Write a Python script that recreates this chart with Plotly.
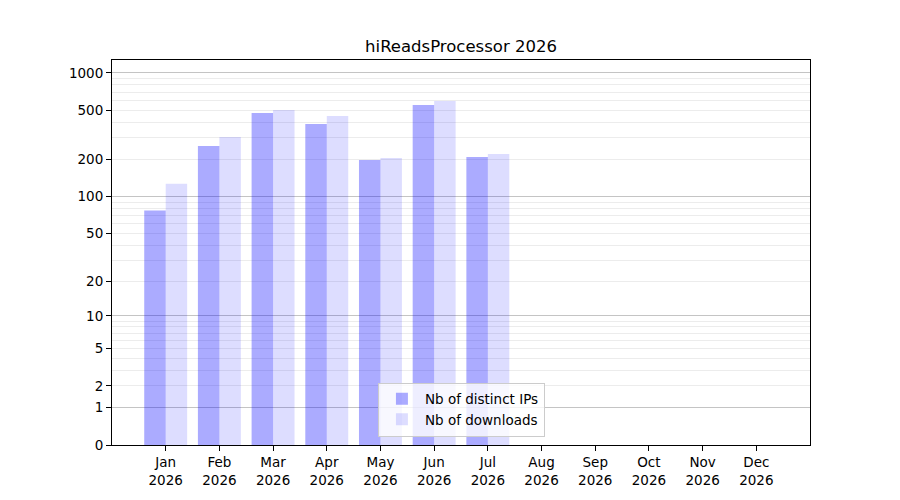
import numpy as np
import plotly.graph_objects as go

months = ["Jan", "Feb", "Mar", "Apr", "May", "Jun", "Jul", "Aug", "Sep", "Oct", "Nov", "Dec"]
year = "2026"
distinct_ips = [77, 257, 475, 387, 198, 551, 209]
downloads = [127, 304, 503, 449, 205, 594, 221]
tick_labels = [0, 1, 2, 5, 10, 20, 50, 100, 200, 500, 1000]
major_grid = [1, 10, 100, 1000]
minor_grid = [2, 3, 4, 5, 6, 7, 8, 9, 20, 30, 40, 50, 60, 70, 80, 90,
              200, 300, 400, 500, 600, 700, 800, 900]
title = "hiReadsProcessor 2026"


def tr(v):
    return np.log10(np.asarray(v, dtype=float) + 1)


x = np.arange(len(distinct_ips))
yrange = [0, 3.105]
font = "DejaVu Sans"

fig = go.Figure()
fig.add_trace(go.Bar(
    x=x, y=tr(distinct_ips), offset=-0.4, width=0.4,
    marker=dict(color="rgba(0,0,255,0.33)", line=dict(width=0)),
    name="Nb of distinct IPs", yaxis="y",
))
fig.add_trace(go.Bar(
    x=x, y=tr(downloads), offset=0, width=0.4,
    marker=dict(color="rgba(0,0,255,0.135)", line=dict(width=0)),
    name="Nb of downloads", yaxis="y2",
))

fig.update_layout(
    width=900, height=500,
    margin=dict(l=104, r=98, t=52, b=63),
    paper_bgcolor="white", plot_bgcolor="white",
    font=dict(family=font, size=13.5, color="black"),
    barmode="overlay",
    title=dict(text=title, x=0.5, xref="paper", xanchor="center",
               y=1 - 38 / 500, yanchor="middle",
               font=dict(family=font, size=16.5, color="black")),
    showlegend=True,
    legend=dict(x=0.381, y=0.022, xanchor="left", yanchor="bottom",
                bgcolor="rgba(255,255,255,0.8)", bordercolor="#cccccc",
                borderwidth=1, font=dict(family=font, size=13.5),
                tracegroupgap=0, itemwidth=36),
    xaxis=dict(
        range=[-1.0, 12.0],
        tickmode="array", tickvals=list(range(len(months))),
        ticktext=[f"{m}<br>{year}" for m in months],
        ticks="outside", ticklen=5, tickcolor="black",
        showline=True, linecolor="black", linewidth=1, mirror=True,
        showgrid=False, zeroline=False,
    ),
    yaxis=dict(
        range=yrange,
        tickmode="array", tickvals=list(tr(major_grid)),
        showticklabels=False, ticks="",
        showgrid=True, gridcolor="#c4c4c4", gridwidth=1,
        minor=dict(tickmode="array", tickvals=list(tr(minor_grid)),
                   showgrid=True, gridcolor="#ececec", gridwidth=1, ticks=""),
        showline=True, linecolor="black", linewidth=1, mirror=True,
        zeroline=False,
    ),
    yaxis2=dict(
        range=yrange, overlaying="y", side="left",
        tickmode="array", tickvals=list(tr(tick_labels)),
        ticktext=[str(t) for t in tick_labels],
        ticks="outside", ticklen=5, tickcolor="black",
        showgrid=False, zeroline=False, showline=False,
    ),
)

fig.write_html("out.html")
